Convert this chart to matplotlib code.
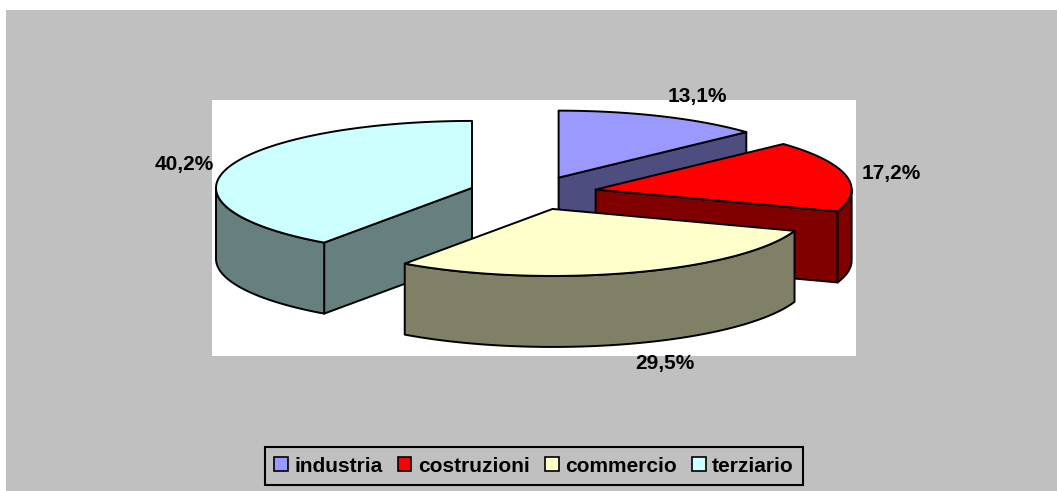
import numpy as np
import matplotlib.pyplot as plt
from matplotlib.patches import Polygon, Rectangle, Patch

plt.rcParams['font.family'] = ['Liberation Sans', 'DejaVu Sans']

# data
categories = ['industria', 'costruzioni', 'commercio', 'terziario']
shares = [13.1, 17.2, 29.5, 40.2]
top_colors = ['#9999FF', '#FF0000', '#FFFFCC', '#CCFFFF']
side_colors = ['#4D4D80', '#800000', '#808066', '#668080']

W, H = 1057, 491
fig = plt.figure(figsize=(W / 100, H / 100), dpi=100)
ax = fig.add_axes([0, 0, 1, 1])
ax.set_xlim(0, W)
ax.set_ylim(H, 0)
ax.axis('off')

# chart area + plot area
ax.add_patch(Rectangle((6, 10), W - 6, H - 10, facecolor='#C0C0C0', edgecolor='none'))
ax.add_patch(Rectangle((212, 100), 644, 256, facecolor='white', edgecolor='none'))

# 3D pie geometry (pixel units)
cx0, cy0 = 533, 193
rx, ry, depth = 256, 67, 71
explode = 0.25


def pt(c, th):
    # angle clockwise from 12 o'clock
    return (c[0] + rx * np.sin(th), c[1] - ry * np.cos(th))


total = sum(shares)
bounds = np.concatenate([[0], np.cumsum(shares)]) / total * 2 * np.pi
slices = []
for i in range(len(shares)):
    a0, a1 = bounds[i], bounds[i + 1]
    m = (a0 + a1) / 2
    c = (cx0 + explode * rx * np.sin(m), cy0 - explode * ry * np.cos(m))
    slices.append((c[1], i, a0, a1, m, c))

kw = dict(edgecolor='black', linewidth=1.4, joinstyle='round')
for _, i, a0, a1, m, c in sorted(slices):
    # flat radial faces facing the viewer
    if np.sin(a0) < -1e-6:
        p = pt(c, a0)
        ax.add_patch(Polygon([c, p, (p[0], p[1] + depth), (c[0], c[1] + depth)],
                             facecolor=side_colors[i], **kw))
    if np.sin(a1) > 1e-6:
        p = pt(c, a1)
        ax.add_patch(Polygon([c, p, (p[0], p[1] + depth), (c[0], c[1] + depth)],
                             facecolor=side_colors[i], **kw))
    # outer curved wall (front half only)
    t0, t1 = max(a0, np.pi / 2), min(a1, 1.5 * np.pi)
    if t1 > t0:
        top = [pt(c, t) for t in np.linspace(t0, t1, 80)]
        bot = [(x, y + depth) for x, y in top[::-1]]
        ax.add_patch(Polygon(top + bot, facecolor=side_colors[i], **kw))
    # top face
    arc = [pt(c, t) for t in np.linspace(a0, a1, 150)]
    ax.add_patch(Polygon([c] + arc, facecolor=top_colors[i], **kw))

    # data label
    s, co = np.sin(m), np.cos(m)
    lx = c[0] + 1.06 * rx * s
    ly = c[1] - 1.16 * ry * co + (depth if co < 0 else 0)
    ha = 'left' if s > 0.1 else ('right' if s < -0.1 else 'center')
    va = 'bottom' if co > 0.5 else ('top' if co < -0.5 else 'center')
    txt = f'{shares[i]:.1f}%'.replace('.', ',')
    ax.text(lx, ly, txt, ha=ha, va=va, fontsize=15, fontweight='bold', color='black')

# legend
handles = [Patch(facecolor=col, edgecolor='black', linewidth=1.2) for col in top_colors]
leg = ax.legend(handles, categories, loc='center', bbox_to_anchor=(534, 466),
                bbox_transform=ax.transData, ncol=4, frameon=True, fancybox=False,
                edgecolor='black', facecolor='#C0C0C0', framealpha=1,
                prop={'weight': 'bold', 'size': 15}, handlelength=0.65,
                handleheight=0.65, handletextpad=0.3, columnspacing=0.75,
                borderpad=0.45, borderaxespad=0)
leg.get_frame().set_linewidth(1.5)

fig.savefig('out.png', dpi=100)
